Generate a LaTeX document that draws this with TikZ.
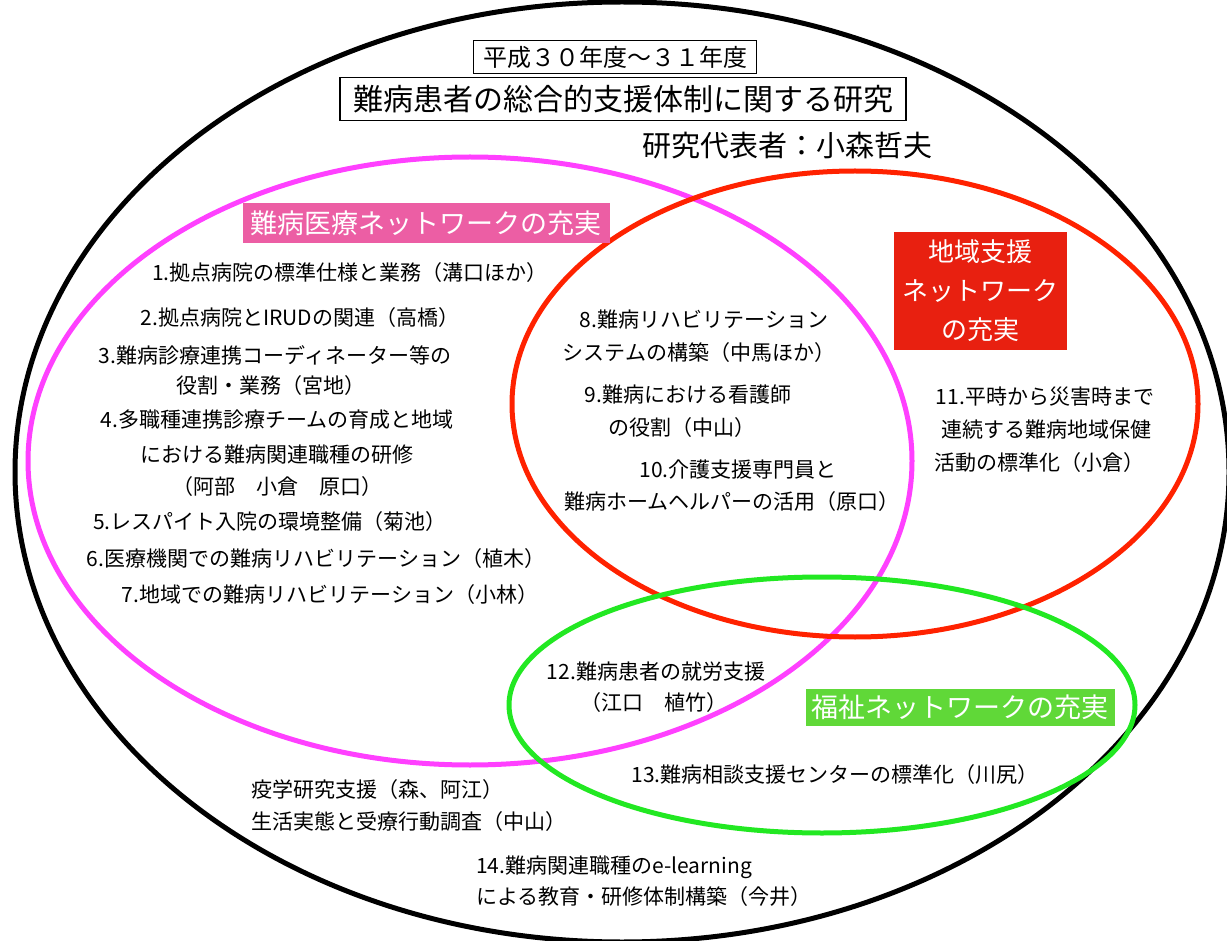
\documentclass[tikz,border=0pt]{standalone}
\usepackage{fontspec}
\newfontfamily\jp{Noto Sans CJK JP}
\definecolor{magc}{RGB}{255,64,255}
\definecolor{redc}{RGB}{255,34,0}
\definecolor{grnc}{RGB}{34,232,34}
\definecolor{pinkbox}{RGB}{236,94,164}
\definecolor{redbox}{RGB}{232,32,16}
\definecolor{grnbox}{RGB}{96,216,56}
\begin{document}
\begin{tikzpicture}[x=1pt,y=-1pt,
  ring/.style={line width=5pt},
  item/.style={font=\jp\fontsize{21}{25}\selectfont, inner sep=0pt},
  headbox/.style={draw=black, line width=1.3pt, inner sep=0pt},
  tag/.style={text=white, inner sep=0pt, align=center}]
\useasboundingbox (0,0) rectangle (1227,941);
\fill[white] (0,0) rectangle (1227,941);
% rings
\draw[ring,black] (622,472) ellipse [x radius=607, y radius=470];
\draw[ring,magc] (470,461) ellipse [x radius=442, y radius=304];
\draw[ring,redc] (855,404) ellipse [x radius=343, y radius=233];
\draw[ring,grnc] (822,705) ellipse [x radius=313, y radius=128];
% header
\node[headbox, minimum width=283, minimum height=33, font=\jp\fontsize{24}{28}\selectfont] (years) at (615,57) {平成３０年度～３１年度};
\node[headbox, minimum width=566, minimum height=43, font=\jp\fontsize{30}{34}\selectfont] (title) at (623,99) {難病患者の総合的支援体制に関する研究};
\node[inner sep=0pt, font=\jp\fontsize{29}{33}\selectfont] (pi) at (787,146) {研究代表者：小森哲夫};
% labels
\node[tag, fill=pinkbox, minimum width=367, minimum height=40, font=\jp\fontsize{27}{31}\selectfont] (lmed) at (426,223) {難病医療ネットワークの充実};
\node[tag, fill=redbox, minimum width=173, minimum height=118, font=\jp\fontsize{26}{39}\selectfont] (lreg) at (980,291) {地域支援\\ネットワーク\\の充実};
\node[tag, fill=grnbox, minimum width=309, minimum height=37, font=\jp\fontsize{27}{31}\selectfont] (lwel) at (960,707) {福祉ネットワークの充実};
% items
\node[item] (i1) at (350,273) {1.拠点病院の標準仕様と業務（溝口ほか）};
\node[item] (i2) at (300,318) {2.拠点病院とIRUDの関連（高橋）};
\node[item] (i3a) at (275,355) {3.難病診療連携コーディネーター等の};
\node[item] (i3b) at (271,386) {役割・業務（宮地）};
\node[item] (i4a) at (277,420) {4.多職種連携診療チームの育成と地域};
\node[item] (i4b) at (277,455) {における難病関連職種の研修};
\node[item] (i4c) at (277,487) {（阿部　小倉　原口）};
\node[item] (i5) at (270,522) {5.レスパイト入院の環境整備（菊池）};
\node[item] (i6) at (316,559) {6.医療機関での難病リハビリテーション（植木）};
\node[item] (i7) at (330,595) {7.地域での難病リハビリテーション（小林）};
\node[item] (i8a) at (704,320) {8.難病リハビリテーション};
\node[item] (i8b) at (699,353) {システムの構築（中馬ほか）};
\node[item] (i9a) at (688,395) {9.難病における看護師};
\node[item] (i9b) at (682,428) {の役割（中山）};
\node[item] (i10a) at (738,470) {10.介護支援専門員と};
\node[item] (i10b) at (732,502) {難病ホームヘルパーの活用（原口）};
\node[item] (i11a) at (1045,397) {11.平時から災害時まで};
\node[item] (i11b) at (1046,430) {連続する難病地域保健};
\node[item] (i11c) at (1039,463) {活動の標準化（小倉）};
\node[item] (i12a) at (656,672) {12.難病患者の就労支援};
\node[item] (i12b) at (654,703) {（江口　植竹）};
\node[item] (i13) at (835,775) {13.難病相談支援センターの標準化（川尻）};
\node[item, anchor=west] (e1) at (251,790) {疫学研究支援（森、阿江）};
\node[item, anchor=west] (e2) at (251,822) {生活実態と受療行動調査（中山）};
\node[item, anchor=west] (i14a) at (476,867) {14.難病関連職種のe-learning};
\node[item, anchor=west] (i14b) at (476,897) {による教育・研修体制構築（今井）};
\end{tikzpicture}
\end{document}
